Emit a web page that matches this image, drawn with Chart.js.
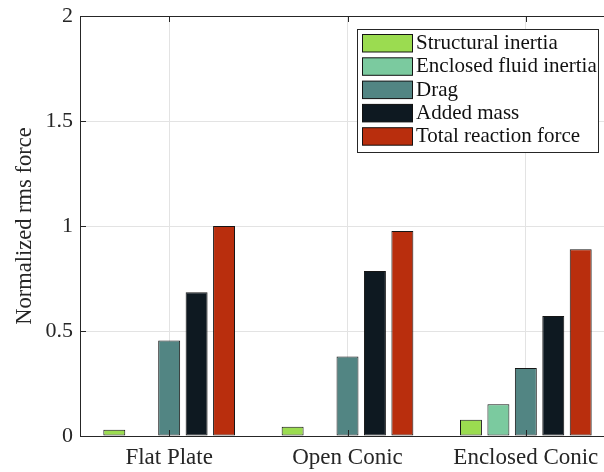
<!DOCTYPE html>
<html>
<head>
<meta charset="utf-8">
<script src="https://cdn.jsdelivr.net/npm/chart.js@4/dist/chart.umd.min.js"></script>
<style>
html, body { margin: 0; padding: 0; overflow: hidden; background: #fff; width: 604px; height: 472px; }
#wrap { width: 630px; height: 472px; }
</style>
</head>
<body>
<div id="wrap"><canvas id="c" width="630" height="472"></canvas></div>
<script>
const categories = ['Flat Plate', 'Open Conic', 'Enclosed Conic'];
const seriesNames = ['Structural inertia', 'Enclosed fluid inertia', 'Drag', 'Added mass', 'Total reaction force'];
const structuralInertia = [0.030, 0.044, 0.077];
const enclosedFluidInertia = [null, null, 0.151];
const drag = [0.455, 0.378, 0.324];
const addedMass = [0.685, 0.786, 0.572];
const totalReactionForce = [1.000, 0.976, 0.889];
const yTicks = [0, 0.5, 1, 1.5, 2];

const colors = ['#9BDC50', '#7BCA9F', '#528583', '#0E1921', '#B92E0D'];
const seriesValues = [structuralInertia, enclosedFluidInertia, drag, addedMass, totalReactionForce];

const FONT = 'Liberation Serif';
const AXIS = '#262626';

const datasets = seriesValues.map((vals, i) => ({
  label: seriesNames[i],
  data: vals,
  backgroundColor: colors[i],
  borderColor: 'rgba(10,10,10,0.95)',
  borderWidth: 1,
  borderSkipped: false,
  categoryPercentage: 5 / 6.5,
  barPercentage: 0.8
}));

const boxPlugin = {
  id: 'boxPlugin',
  afterDraw(chart) {
    const ctx = chart.ctx;
    const a = chart.chartArea;
    const xs = chart.scales.x, ys = chart.scales.y;
    ctx.save();
    ctx.strokeStyle = AXIS;
    ctx.lineWidth = 1;
    const tl = 6;
    ctx.beginPath();
    xs.ticks.forEach((t, i) => {
      const px = Math.round(xs.getPixelForTick(i)) + 0.5;
      ctx.moveTo(px, a.bottom); ctx.lineTo(px, a.bottom - tl);
      ctx.moveTo(px, a.top); ctx.lineTo(px, a.top + tl);
    });
    ys.ticks.forEach((t, i) => {
      const py = Math.round(ys.getPixelForTick(i)) + 0.5;
      ctx.moveTo(a.left, py); ctx.lineTo(a.left + tl, py);
      ctx.moveTo(a.right, py); ctx.lineTo(a.right - tl, py);
    });
    ctx.stroke();
    ctx.strokeRect(Math.round(a.left) + 0.5, Math.round(a.top) + 0.5,
      Math.round(a.right - a.left), Math.round(a.bottom - a.top));
    // legend
    const lx = 357.5, ly = 29.5, lw = 241, lh = 123;
    ctx.fillStyle = '#fff';
    ctx.fillRect(lx, ly, lw, lh);
    ctx.strokeStyle = AXIS;
    ctx.strokeRect(lx, ly, lw, lh);
    ctx.font = '21px "' + FONT + '"';
    ctx.textBaseline = 'alphabetic';
    chart.data.datasets.forEach((ds, i) => {
      const ry = 34.5 + i * 23.3;
      ctx.fillStyle = ds.backgroundColor;
      ctx.fillRect(362.5, ry, 50, 17.5);
      ctx.strokeStyle = 'rgba(10,10,10,0.95)';
      ctx.strokeRect(362.5, ry, 50, 17.5);
      ctx.fillStyle = '#111';
      ctx.fillText(ds.label, 416, ry + 14.5);
    });
    ctx.restore();
  }
};

new Chart(document.getElementById('c'), {
  type: 'bar',
  data: { labels: categories, datasets },
  options: {
    responsive: false,
    animation: false,
    devicePixelRatio: 1,
    layout: { padding: { top: 16, right: 15, left: 0, bottom: 0 } },
    plugins: { legend: { display: false }, tooltip: { enabled: false } },
    scales: {
      x: {
        offset: true,
        grid: { display: true, offset: false, color: '#e3e3e3', drawTicks: false },
        border: { display: false },
        ticks: { color: AXIS, font: { family: FONT, size: 23 }, padding: 8, maxRotation: 0 },
        afterFit(s) { s.height = 36; }
      },
      y: {
        min: 0, max: 2,
        afterBuildTicks(s) { s.ticks = yTicks.map(v => ({ value: v })); },
        grid: { color: '#e3e3e3', drawTicks: false },
        border: { display: false },
        ticks: { color: AXIS, font: { family: FONT, size: 22, lineHeight: 0.6 }, padding: 7,
          callback: v => String(v) },
        title: { display: true, text: 'Normalized rms force', color: AXIS,
          font: { family: FONT, size: 22.5 }, padding: { top: 12, bottom: 0 } },
        afterFit(s) { s.width = 80; }
      }
    }
  },
  plugins: [boxPlugin]
});
</script>
</body>
</html>
